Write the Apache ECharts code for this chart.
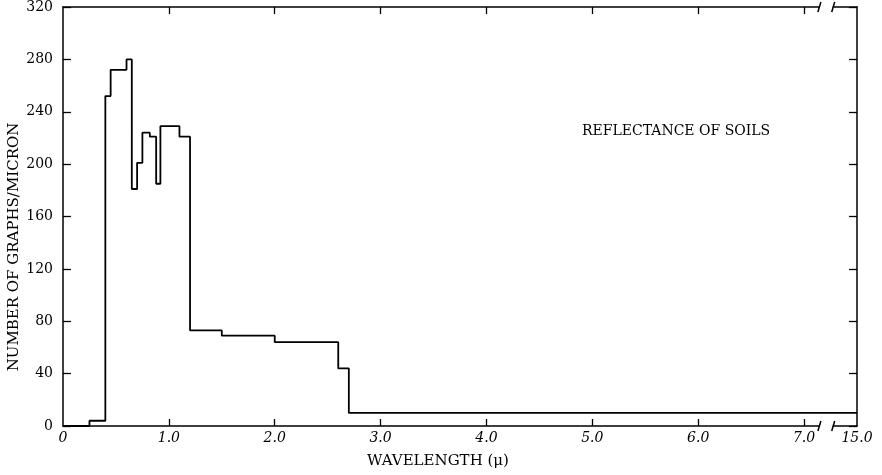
<!DOCTYPE html>
<html><head><meta charset="utf-8">
<script src="https://cdn.jsdelivr.net/npm/echarts@6/dist/echarts.min.js"></script>
<style>html,body{margin:0;padding:0;background:#fff}#c{width:882px;height:475px}</style>
</head><body><div id="c"></div>
<script>
// step edges (wavelength, micron) and value starting at each edge
var wavelengths = [0, 0.25, 0.40, 0.45, 0.60, 0.65, 0.70, 0.75, 0.82, 0.88, 0.92, 1.10, 1.20, 1.50, 2.00, 2.60, 2.70, 15.0];
var graphsPerMicron = [0, 4, 252, 272, 280, 181, 201, 224, 221, 185, 229, 221, 73, 69, 64, 44, 10, 10];
var xTickValues = [0, 1, 2, 3, 4, 5, 6, 7, 15];
var yTicks = [0, 40, 80, 120, 160, 200, 240, 280, 320];

// broken axis: 7.25 .. 14.75 is cut out (15.0 sits at 7.5 on the drawn scale)
var BREAK_FROM = 7.25, BREAK_TO = 14.75;
function axisPos(w) { return w <= BREAK_FROM ? w : w - (BREAK_TO - BREAK_FROM); }
function axisLabel(p) {
  var w = p > BREAK_FROM ? p + (BREAK_TO - BREAK_FROM) : p;
  if (w === 0) return '0';
  return w.toFixed(1);
}

var data = wavelengths.map(function (w, i) { return [axisPos(w), graphsPerMicron[i]]; });
var xPos = xTickValues.map(axisPos);

var serif = '"DejaVu Serif", "Liberation Serif", serif';
var chart = echarts.init(document.getElementById('c'), null, { renderer: 'canvas' });
var axisLine = { show: true, onZero: false, lineStyle: { color: '#000', width: 1.5 } };
var tickStyle = { color: '#000', width: 1.3 };
var option = {
  animation: false,
  backgroundColor: '#fff',
  grid: { left: 63, right: 25, top: 6, bottom: 49 },
  xAxis: [{
    type: 'value', min: 0, max: axisPos(15), position: 'bottom',
    axisLine: axisLine,
    axisTick: { show: true, inside: true, length: 7, lineStyle: tickStyle, customValues: xPos.slice(1, 8) },
    axisLabel: { show: true, customValues: xPos, formatter: axisLabel, color: '#000', fontFamily: serif, fontSize: 14, fontStyle: 'italic', margin: 5 },
    splitLine: { show: false }
  }, {
    type: 'value', min: 0, max: axisPos(15), position: 'top',
    axisLine: axisLine,
    axisTick: { show: true, inside: true, length: 7, lineStyle: tickStyle, customValues: xPos.slice(1, 8) },
    axisLabel: { show: false }, splitLine: { show: false }
  }],
  yAxis: [{
    type: 'value', min: 0, max: 320, interval: 40, position: 'left',
    axisLine: axisLine,
    axisTick: { show: true, inside: true, length: 8, lineStyle: tickStyle },
    axisLabel: { color: '#000', fontFamily: serif, fontSize: 14, margin: 10, formatter: function (v) { return String(v); } },
    splitLine: { show: false }
  }, {
    type: 'value', min: 0, max: 320, interval: 40, position: 'right',
    axisLine: axisLine,
    axisTick: { show: true, inside: true, length: 8, lineStyle: tickStyle },
    axisLabel: { show: false }, splitLine: { show: false }
  }],
  series: [{
    type: 'line', step: 'end', data: data, showSymbol: false, symbol: 'none',
    lineStyle: { color: '#000', width: 1.8 }, xAxisIndex: 0, yAxisIndex: 0
  }],
  graphic: []
};
chart.setOption(option);

// axis break marks on bottom and top axis lines, placed through the axis scale
var p1 = chart.convertToPixel({ xAxisIndex: 0 }, 7.14);
var p2 = chart.convertToPixel({ xAxisIndex: 0 }, 7.28);
var yb = chart.convertToPixel({ yAxisIndex: 0 }, 0);
var yt = chart.convertToPixel({ yAxisIndex: 0 }, 320);
var g = [];
[yb, yt].forEach(function (y) {
  g.push({ type: 'rect', shape: { x: p1 + 1, y: y - 2, width: p2 - p1 - 2, height: 4 }, style: { fill: '#fff' }, z: 100 });
  g.push({ type: 'line', shape: { x1: p1 + 2, y1: y - 5, x2: p1 - 1, y2: y + 5 }, style: { stroke: '#000', lineWidth: 1.5 }, z: 101 });
  g.push({ type: 'line', shape: { x1: p2 + 1, y1: y - 5, x2: p2 - 2, y2: y + 5 }, style: { stroke: '#000', lineWidth: 1.5 }, z: 101 });
});
g.push({ type: 'text', x: 582, y: 131, style: { text: 'REFLECTANCE OF SOILS', fill: '#000', font: '14px ' + serif, verticalAlign: 'middle' }, z: 100 });
g.push({ type: 'text', x: 438, y: 461, style: { text: 'WAVELENGTH (μ)', fill: '#000', font: '15px ' + serif, align: 'center', verticalAlign: 'middle' }, z: 100 });
g.push({ type: 'text', x: 14, y: 247, rotation: Math.PI / 2, style: { text: 'NUMBER OF GRAPHS/MICRON', fill: '#000', font: '15px ' + serif, align: 'center', verticalAlign: 'middle' }, z: 100 });
chart.setOption({ graphic: g });
</script>
</body></html>
